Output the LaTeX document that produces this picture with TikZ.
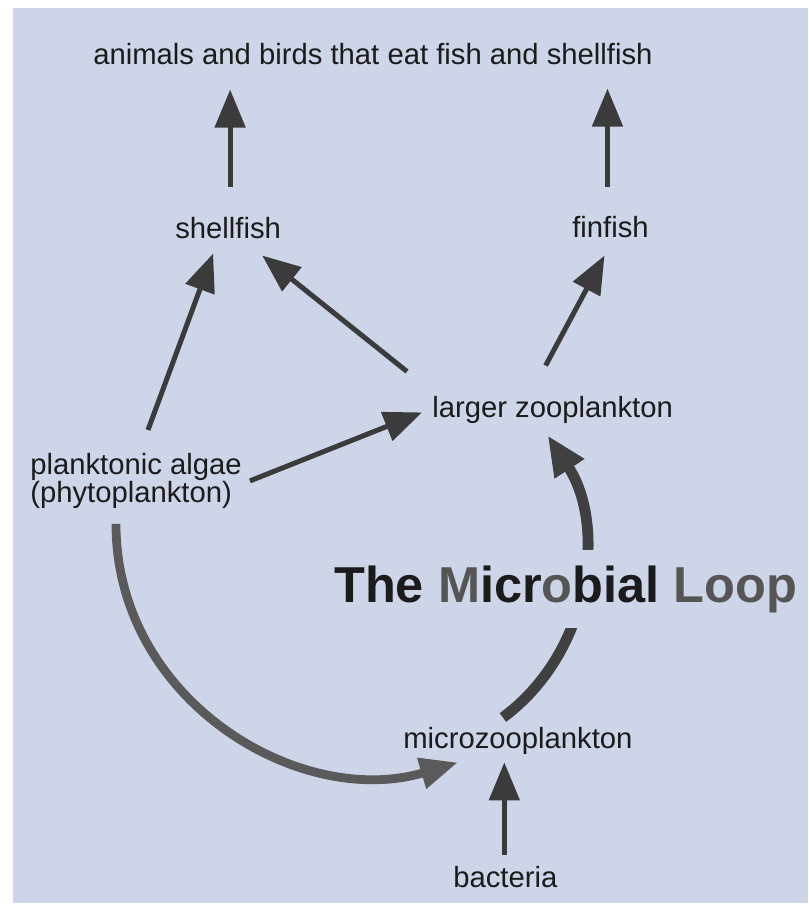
\documentclass[tikz,border=0pt]{standalone}
\usepackage{fontspec}
\setmainfont{Liberation Sans}
\usetikzlibrary{arrows.meta,calc}
\definecolor{PaperBlue}{HTML}{CDD5E9}
\definecolor{InkBlack}{HTML}{1B1B1B}
\definecolor{ArrowGray}{HTML}{3B3B3B}
\definecolor{SweepGray}{HTML}{5A5A5A}
\definecolor{LoopInk}{HTML}{404040}
\definecolor{TitleGray}{HTML}{555555}

\begin{document}
\begin{tikzpicture}[
    x=0.025cm,y=-0.025cm,
    every node/.style={font=\fontsize{20.8pt}{19.9pt}\selectfont,text=InkBlack,inner sep=0pt},
    lbl/.style={anchor=base west},
    arr/.style={-{Triangle[length=0.95cm,width=0.75cm]},ArrowGray,line width=0.125cm},
    sweep/.style={-{Triangle[length=0.95cm,width=0.75cm]},SweepGray,line width=0.22cm},
    cyclearr/.style={-{Triangle[length=1cm,width=0.82cm]},LoopInk,line width=0.27cm},
    heading/.style={font=\fontsize{35.9pt}{40pt}\selectfont\bfseries,anchor=base west,fill=PaperBlue,inner ysep=11pt}
  ]
    \useasboundingbox (0,0) rectangle (808,911);
    \fill[PaperBlue] (13,8) rectangle (808,903);

    \node[lbl] (top) at (93,65) {animals and birds that eat fish and shellfish};
    \node[lbl] (shellfish) at (175,239) {shellfish};
    \node[lbl] (finfish) at (572,238) {finfish};
    \node[lbl] (larger) at (432,417) {larger zooplankton};
    \node[anchor=north west,align=left] (algae) at (30,453) {planktonic algae\\(phytoplankton)};
    \node[lbl] (microzoo) at (403,748) {microzooplankton};
    \node[lbl] (bacteria) at (453,887) {bacteria};

    \draw[arr] ($(shellfish.north)+(2,-31)$) -- ($(shellfish.north |- top.south)+(2,24)$);
    \draw[arr] ($(finfish.north)+(-3,-30)$) -- ($(finfish.north |- top.south)+(-3,23)$);
    \draw[arr] ($(algae.north)+(12,-23)$) -- ($(shellfish.south)+(-15,14)$);
    \draw[arr] ($(larger.north west)+(-25,-24)$) -- ($(shellfish.south east)+(-19,16)$);
    \draw[arr] ($(algae.east)+(8,0)$) -- ($(larger.west)+(-10,3)$);
    \draw[arr] ($(larger.north)+(-7,-30)$) -- ($(finfish.south)+(-6,17)$);
    \draw[arr] ($(bacteria.north)+(-1,-11)$) -- ($(bacteria.north |- microzoo.south)+(-1,8)$);

    % the loop
    \draw[sweep] ($(algae.south)+(-20,15)$) .. controls +(0,177) and +(-158,47) .. ($(microzoo.west)+(55,22)$);
    \draw[cyclearr] ($(microzoo.north)+(-15,-9)$) .. controls +(89,-66) and +(59,90) .. ($(larger.south)+(-5,12)$);

    \node[heading] (mloop) at (334,602) {The {\color{TitleGray}M}icr{\color{TitleGray}o}bial {\color{TitleGray}Loop}};
  \end{tikzpicture}
\end{document}
